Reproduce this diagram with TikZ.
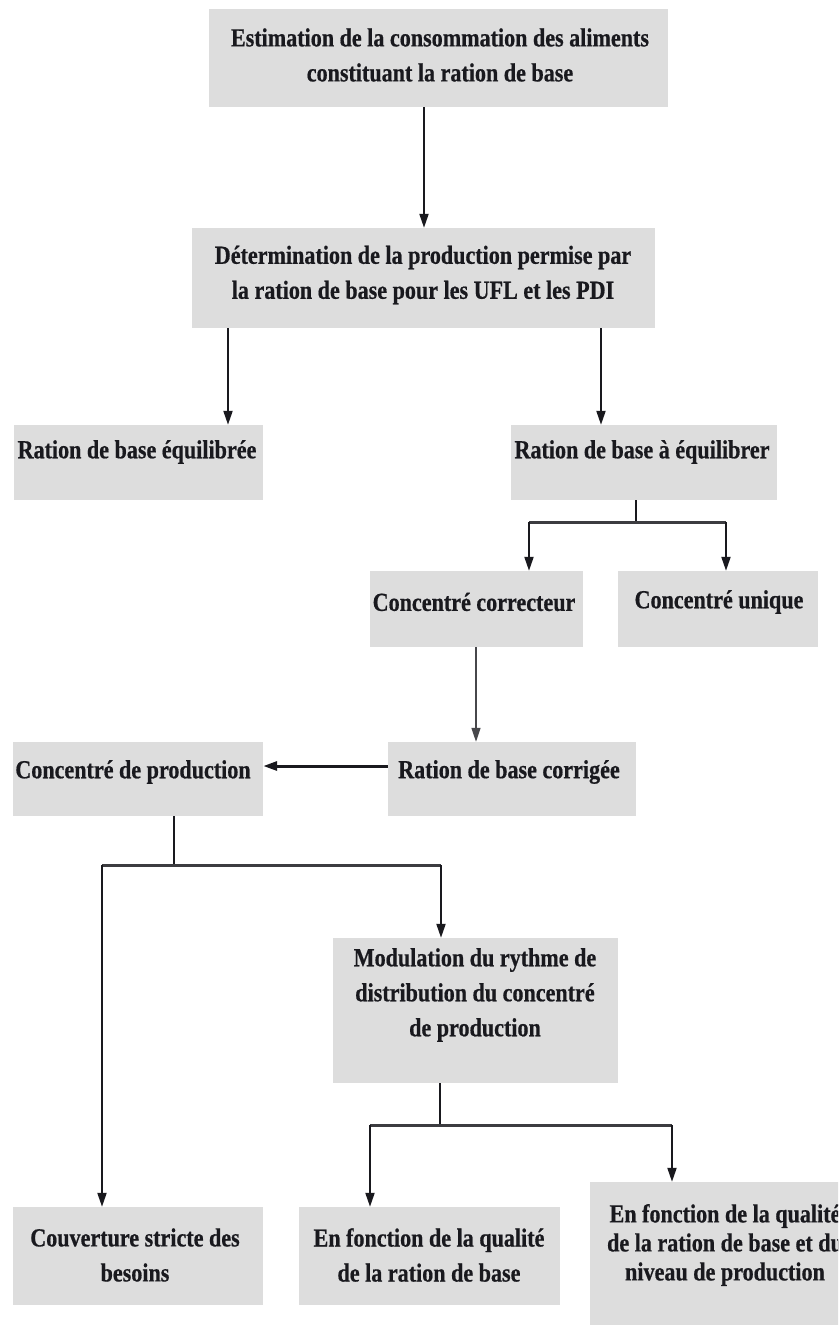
\documentclass[tikz,border=0pt]{standalone}
\usepackage{fontspec}
\setmainfont{Liberation Serif}[FakeStretch=0.85,BoldFeatures={FakeBold=0.6}]
\usetikzlibrary{arrows.meta}
\definecolor{boxgray}{RGB}{221,221,221}
\definecolor{ink}{RGB}{25,25,30}
\begin{document}
\begin{tikzpicture}[x=1pt,y=-1pt,
  box/.style={fill=boxgray, draw=none, inner sep=0pt, rectangle},
  txt/.style={font=\fontsize{26}{35}\selectfont\bfseries, text=ink, align=center, inner sep=0pt},
  tighttxt/.style={font=\fontsize{26}{29}\selectfont\bfseries, text=ink, align=center, inner sep=0pt},
  arr/.style={draw=ink, line width=2pt, -{Triangle[length=14pt,width=9pt]}},
  thinarr/.style={draw=ink!80, line width=1.5pt, -{Triangle[length=14pt,width=9pt]}},
  ln/.style={draw=ink, line width=2pt},
  brk/.style={draw=ink!85, line width=3pt}]
\useasboundingbox (0,0) rectangle (838,1325);
\fill[white] (0,0) rectangle (838,1325);
\clip (0,0) rectangle (838,1325);
% boxes
\node[box, minimum width=459pt, minimum height=98pt] (n1) at (438.5,58) {};
\node[box, minimum width=463pt, minimum height=100pt] (n2) at (423.5,278) {};
\node[box, minimum width=249pt, minimum height=75pt] (n3) at (138.5,462.5) {};
\node[box, minimum width=266pt, minimum height=75pt] (n4) at (644,462.5) {};
\node[box, minimum width=213pt, minimum height=76pt] (n5) at (476.5,609) {};
\node[box, minimum width=200pt, minimum height=76pt] (n6) at (718,609) {};
\node[box, minimum width=250pt, minimum height=74pt] (n7) at (138,779) {};
\node[box, minimum width=248pt, minimum height=74pt] (n8) at (512,779) {};
\node[box, minimum width=285pt, minimum height=145pt] (n9) at (475.5,1010.5) {};
\node[box, minimum width=250pt, minimum height=98pt] (n10) at (138,1256) {};
\node[box, minimum width=261pt, minimum height=98pt] (n11) at (429,1256) {};
\node[box, minimum width=272pt, minimum height=146pt] (n12) at (726,1255) {};
% texts
\node[txt] (t1) at (440,55) {Estimation de la consommation des aliments\\constituant la ration de base};
\node[txt] (t2) at (423,275) {Détermination de la production permise par\\la ration de base pour les UFL et les PDI};
\node[txt] (t3) at (137,452) {Ration de base équilibrée};
\node[txt] (t4) at (642,452) {Ration de base à équilibrer};
\node[txt] (t5) at (474,602) {Concentré correcteur};
\node[txt] (t6) at (719,602) {Concentré unique};
\node[txt] (t7) at (133,772) {Concentré de production};
\node[txt] (t8) at (509,772) {Ration de base corrigée};
\node[txt] (t9) at (475,995) {Modulation du rythme de\\distribution du concentré\\de production};
\node[txt] (t10) at (135,1255) {Couverture stricte des\\besoins};
\node[txt] (t11) at (429,1255) {En fonction de la qualité\\de la ration de base};
\node[tighttxt] (t12) at (725,1245) {En fonction de la qualité\\de la ration de base et du\\niveau de production};
% helper coordinates
\coordinate (c424) at (424,0);
\coordinate (c228) at (228,0);
\coordinate (c601) at (601,0);
\coordinate (c636) at (636,0);
\coordinate (c476) at (476,0);
\coordinate (r766) at (0,766);
\coordinate (b1) at (636,522);
\coordinate (b1l) at (529,522);
\coordinate (b1r) at (726,522);
\coordinate (b2) at (174,865);
\coordinate (b2l) at (102,865);
\coordinate (b2r) at (441,865);
\coordinate (b3) at (440,1125);
\coordinate (b3l) at (370,1125);
\coordinate (b3r) at (672,1125);
% connectors
\draw[arr] (n1.south -| c424) -- (n2.north -| c424);
\draw[arr] (n2.south -| c228) -- (n3.north -| c228);
\draw[arr] (n2.south -| c601) -- (n4.north -| c601);
\draw[ln] (n4.south -| c636) -- (b1);
\draw[brk] (b1l) -- (b1r);
\draw[arr] (b1l) -- (n5.north -| b1l);
\draw[arr] (b1r) -- (n6.north -| b1r);
\draw[thinarr] (n5.south -| c476) -- (n8.north -| c476);
\draw[arr, line width=3pt] (n8.west |- r766) -- (n7.east |- r766);
\draw[ln] (n7.south -| b2) -- (b2);
\draw[brk] (b2l) -- (b2r);
\draw[arr] (b2r) -- (n9.north -| b2r);
\draw[arr] (b2l) -- (n10.north -| b2l);
\draw[ln] (n9.south -| b3) -- (b3);
\draw[brk] (b3l) -- (b3r);
\draw[arr] (b3l) -- (n11.north -| b3l);
\draw[arr] (b3r) -- (n12.north -| b3r);
\end{tikzpicture}
\end{document}
